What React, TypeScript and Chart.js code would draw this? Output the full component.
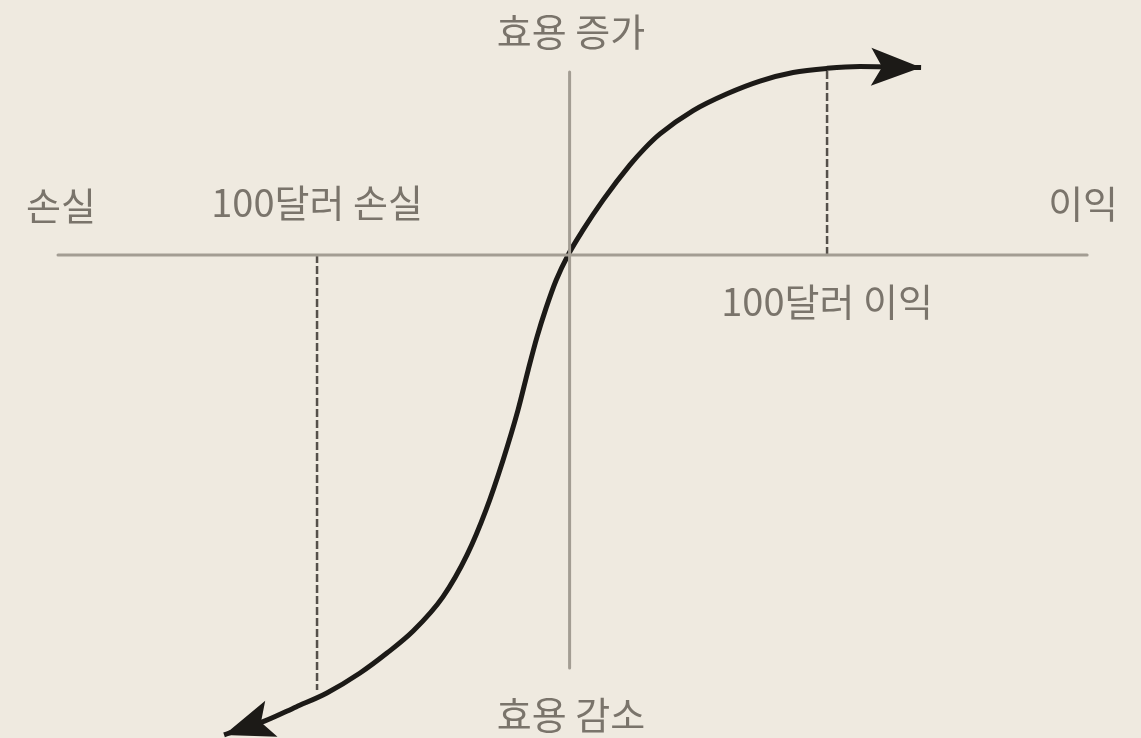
import React, { useEffect, useRef } from "react";
import { Chart, registerables } from "chart.js";

Chart.register(...registerables);

// value-function (prospect theory) sketch data
const xRange = [-219.3, 221.2];
const yRange = [-186.5, 98.5];

const curveX = [-132.8, -117.0, -105.0, -93.1, -80.3, -69.9, -59.8, -48.3, -39.0, -31.7, -25.1, -19.3, -15.4, -12.0, -8.5, -4.6, 0, 5.8, 13.5, 23.9, 29.7, 35.5, 48.3, 61.4, 74.1, 86.9, 100, 112.7, 136.3];
const curveY = [-185.3, -179.9, -174.5, -169.1, -161.4, -153.7, -145.2, -132.0, -115.8, -98.5, -79.2, -59.8, -44.4, -31.7, -20.5, -9.7, 0, 9.7, 21.2, 34.8, 41.3, 46.8, 55.8, 62.3, 67.2, 70.5, 72.1, 72.8, 72.4];

const hAxisX = [-196.9, 200.4];
const vAxisY = [70.7, -159.5];
const gainX = 100;
const gainTopY = 72.1;
const lossX = -96.9;
const lossBottomY = -168.0;

const labelTop = "효용 증가";
const labelBottom = "효용 감소";
const labelLeft = "손실";
const labelRight = "이익";
const labelLoss = "100달러 손실";
const labelGain = "100달러 이익";

const BG = "#efeae0";
const AXIS = "#a39d93";
const CURVE = "#1c1a17";
const DASH = "#55504a";
const TEXT = "#7a746b";

function drawArrow(ctx: CanvasRenderingContext2D, tip: { x: number; y: number }, from: { x: number; y: number }) {
  const dx = tip.x - from.x;
  const dy = tip.y - from.y;
  const len = Math.hypot(dx, dy) || 1;
  const ux = dx / len;
  const uy = dy / len;
  const nx = -uy;
  const ny = ux;
  const L = 50;
  const W = 19;
  const notch = 11;
  const bx = tip.x - ux * L;
  const by = tip.y - uy * L;
  ctx.save();
  ctx.fillStyle = CURVE;
  ctx.beginPath();
  ctx.moveTo(tip.x, tip.y);
  ctx.lineTo(bx + nx * W, by + ny * W);
  ctx.lineTo(tip.x - ux * (L - notch), tip.y - uy * (L - notch));
  ctx.lineTo(bx - nx * W, by - ny * W);
  ctx.closePath();
  ctx.fill();
  ctx.restore();
}

const overlay = {
  id: "overlay",
  beforeDraw(chart: any) {
    const { ctx, width, height } = chart;
    ctx.save();
    ctx.fillStyle = BG;
    ctx.fillRect(0, 0, width, height);
    ctx.restore();
  },
  afterDatasetsDraw(chart: any) {
    const ctx: CanvasRenderingContext2D = chart.ctx;
    const xs = chart.scales.x;
    const ys = chart.scales.y;
    const px = (v: number) => xs.getPixelForValue(v);
    const py = (v: number) => ys.getPixelForValue(v);

    const n = curveX.length;
    drawArrow(ctx, { x: px(curveX[0]), y: py(curveY[0]) }, { x: px(curveX[1]), y: py(curveY[1]) });
    drawArrow(ctx, { x: px(curveX[n - 1]), y: py(curveY[n - 1]) }, { x: px(curveX[n - 2]), y: py(curveY[n - 2]) });

    ctx.save();
    ctx.fillStyle = TEXT;
    ctx.font = '400 38px "Noto Sans CJK KR"';
    ctx.textAlign = "center";
    ctx.textBaseline = "middle";
    const axisY = py(0);
    const axisX = px(0);
    ctx.fillText(labelTop, axisX + 3, py(vAxisY[0]) - 40);
    ctx.fillText(labelBottom, axisX + 3, py(vAxisY[1]) + 46);
    ctx.fillText(labelLeft, px(hAxisX[0]) + 3, axisY - 50);
    ctx.fillText(labelRight, px(hAxisX[1]) - 4, axisY - 52);
    ctx.fillText(labelLoss, px(lossX), axisY - 53);
    ctx.fillText(labelGain, px(gainX), axisY + 46);
    ctx.restore();
  },
};

export default function App() {
  const ref = useRef<HTMLCanvasElement | null>(null);

  useEffect(() => {
    document.body.style.margin = "0";
    document.body.style.background = BG;
    if (!ref.current) return;
    const chart = new Chart(ref.current, {
      type: "scatter",
      data: {
        datasets: [
          {
            data: hAxisX.map((x) => ({ x, y: 0 })),
            showLine: true,
            borderColor: AXIS,
            borderWidth: 3,
            borderCapStyle: "round",
            pointRadius: 0,
          },
          {
            data: vAxisY.map((y) => ({ x: 0.6, y })),
            showLine: true,
            borderColor: AXIS,
            borderWidth: 3,
            borderCapStyle: "round",
            pointRadius: 0,
          },
          {
            data: [{ x: gainX, y: 0 }, { x: gainX, y: gainTopY }],
            showLine: true,
            borderColor: DASH,
            borderWidth: 2.5,
            borderDash: [8, 3],
            pointRadius: 0,
          },
          {
            data: [{ x: lossX, y: 0 }, { x: lossX, y: lossBottomY }],
            showLine: true,
            borderColor: DASH,
            borderWidth: 2.5,
            borderDash: [8, 3],
            pointRadius: 0,
          },
          {
            data: curveX.map((x, i) => ({ x, y: curveY[i] })),
            showLine: true,
            borderColor: CURVE,
            borderWidth: 5,
            cubicInterpolationMode: "monotone",
            pointRadius: 0,
          },
        ],
      },
      options: {
        animation: false,
        responsive: false,
        devicePixelRatio: 1,
        layout: { padding: 0 },
        plugins: { legend: { display: false }, tooltip: { enabled: false } },
        scales: {
          x: { type: "linear", min: xRange[0], max: xRange[1], display: false },
          y: { type: "linear", min: yRange[0], max: yRange[1], display: false },
        },
      },
      plugins: [overlay],
    } as any);
    return () => chart.destroy();
  }, []);

  return (
    <div style={{ width: 1141, height: 738, background: BG }}>
      <canvas ref={ref} width={1141} height={738} />
    </div>
  );
}
